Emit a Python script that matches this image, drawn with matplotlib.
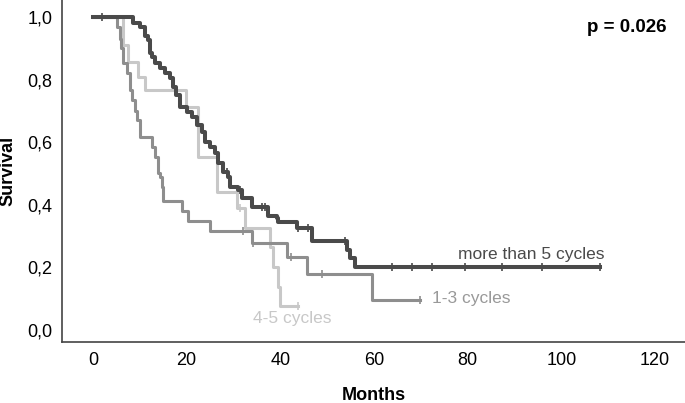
import matplotlib.pyplot as plt
import numpy as np
from matplotlib.ticker import FuncFormatter

plt.rcParams["font.family"] = ["Liberation Sans", "DejaVu Sans"]

# Kaplan-Meier steps [months], [survival]
darkTimes = [0, 8.5, 10, 11.1, 11.7, 12.2, 12.6, 13.2, 14.3, 15.4, 16.4, 17.1, 17.7,
             18.6, 20, 21.1, 22.2, 23.3, 23.9, 25, 26, 26.7, 27.8, 28.8, 29.3, 31,
             31.8, 33.9, 37.4, 39.3, 39.5, 43.6, 46.8, 54.2, 54.9, 56, 108.3]
darkSurv = [1.0, 0.98, 0.97, 0.94, 0.926, 0.885, 0.872, 0.853, 0.837, 0.82, 0.804,
            0.776, 0.75, 0.712, 0.696, 0.68, 0.654, 0.631, 0.6, 0.583, 0.564, 0.532,
            0.505, 0.487, 0.455, 0.446, 0.42, 0.391, 0.365, 0.356, 0.343, 0.324,
            0.282, 0.253, 0.228, 0.2, 0.2]
darkCens = [2, 28.6, 31.4, 36.1, 36.7, 43.8, 45.9, 53.8, 63.8, 68.1, 72.4, 79.4,
            87.3, 95.9, 108.3]

medTimes = [0, 5.1, 5.8, 6.0, 6.4, 7.3, 7.9, 8.3, 9.0, 9.4, 10.0, 12.6, 13.2, 13.9,
            14.3, 14.7, 14.9, 19.0, 20.3, 25.0, 34.0, 41.4, 45.7, 59.6, 69.8]
medSurv = [1.0, 0.97, 0.93, 0.90, 0.853, 0.82, 0.766, 0.734, 0.70, 0.67, 0.615,
           0.583, 0.551, 0.5, 0.487, 0.455, 0.413, 0.381, 0.349, 0.314, 0.276,
           0.231, 0.179, 0.096, 0.096]
medCens = [32, 34.2, 42.3, 48.9, 69.8]

lightTimes = [0, 6.4, 7.5, 9.6, 11.1, 19.8, 22.4, 26.5, 30.8, 32.5, 37.8, 38.4,
              39.5, 39.9, 43.8]
lightSurv = [1.0, 0.91, 0.856, 0.808, 0.766, 0.712, 0.551, 0.44, 0.388, 0.324,
             0.263, 0.2, 0.135, 0.074, 0.074]
lightCens = [31.4, 43.8]

curves = [
    (lightTimes, lightSurv, lightCens, "#c8c8c8", 2.2),
    (medTimes, medSurv, medCens, "#8e8e8e", 2.2),
    (darkTimes, darkSurv, darkCens, "#4a4a4a", 2.9),
]

fig = plt.figure(figsize=(6.85, 4.03), dpi=100)
ax = fig.add_axes([62 / 685, 61 / 403, 623 / 685, 342 / 403])

for times, surv, cens, color, lw in curves:
    ax.step(times, surv, where="post", color=color, linewidth=lw)
    # censor marks sit on the curve value at that time
    idx = np.searchsorted(times, cens, side="right") - 1
    censSurv = np.array(surv)[idx]
    ax.plot(cens, censSurv, linestyle="none", marker="|", markersize=6,
            markeredgewidth=1.2, color=color)

ax.text(109.3, 0.215, "more than 5 cycles", color="#4a4a4a", fontsize=12.5,
        ha="right", va="bottom")
ax.text(72.4, 0.1, "1-3 cycles", color="#999999", fontsize=12.5, ha="left",
        va="center")
ax.text(42.5, 0.035, "4-5 cycles", color="#c8c8c8", fontsize=12.5, ha="center",
        va="center")
ax.text(122.5, 0.968, "p = 0.026", fontsize=13.5, fontweight="bold", ha="right",
        va="center")

ax.set_xlim(-6.6, 126.4)
ax.set_ylim(-0.04, 1.055)
ax.set_xticks([0, 20, 40, 60, 80, 100, 120])
ax.set_yticks([0, 0.2, 0.4, 0.6, 0.8, 1.0])
ax.yaxis.set_major_formatter(FuncFormatter(lambda v, p: f"{v:.1f}".replace(".", ",")))
ax.tick_params(length=0, labelsize=13, pad=7)

for side in ["top", "right"]:
    ax.spines[side].set_visible(False)
for side in ["left", "bottom"]:
    ax.spines[side].set_color("#444444")
    ax.spines[side].set_linewidth(1.2)

ax.set_xlabel("Months", fontsize=13, fontweight="bold", labelpad=13)
ax.set_ylabel("Survival", fontsize=13, fontweight="bold", labelpad=8)

fig.savefig("out.png", dpi=100)
